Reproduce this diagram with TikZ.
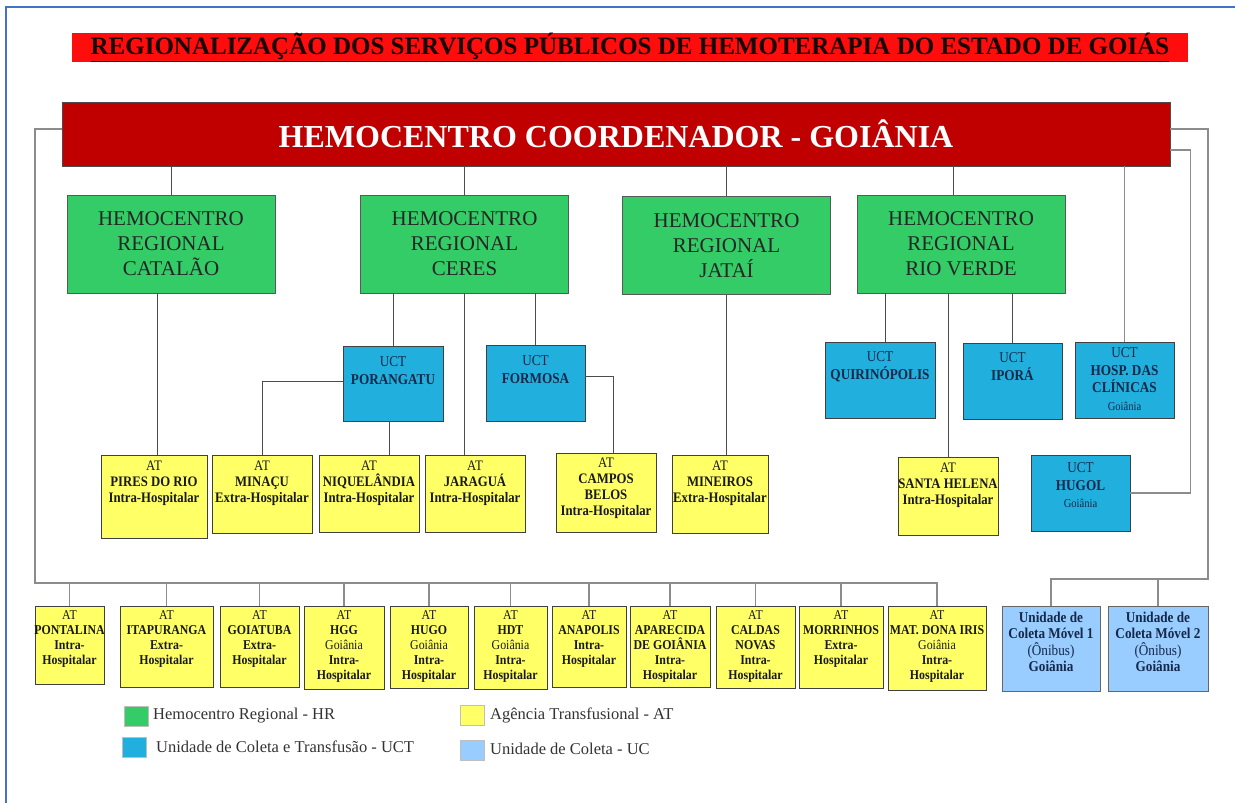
\documentclass[tikz,border=0pt]{standalone}
\usepackage{fontspec}
\setmainfont{Liberation Serif}
\newfontfamily\condfont[FakeStretch=0.88]{Liberation Serif}

\definecolor{titlered}{RGB}{255,12,12}
\definecolor{mainred}{RGB}{192,0,0}
\definecolor{hrgreen}{RGB}{51,204,102}
\definecolor{uctblue}{RGB}{33,176,221}
\definecolor{atyellow}{RGB}{255,255,102}
\definecolor{ucblue}{RGB}{153,204,255}
\definecolor{framecol}{RGB}{68,114,196}
\definecolor{uctink}{RGB}{20,40,75}

\tikzset{
  titlebar/.style={fill=titlered, inner sep=0pt, text=black!90!red, font=\bfseries\fontsize{25}{28}\selectfont},
  mainbox/.style={draw=black!70, fill=mainred, line width=0.8pt, inner sep=0pt, text=white, font=\bfseries\fontsize{32}{36}\selectfont},
  hrbox/.style={draw=black!65, fill=hrgreen, line width=0.8pt, inner sep=0pt, align=center, minimum width=208pt, minimum height=98pt, text=black!85, font=\fontsize{21}{25}\selectfont},
  uctbox/.style={draw=black!75, fill=uctblue, line width=0.8pt, minimum width=99pt, minimum height=76pt},
  atbox/.style={draw=black!75, fill=atyellow, line width=0.8pt, minimum width=100pt, minimum height=78pt},
  ucbox/.style={draw=black!60, fill=ucblue, line width=0.8pt, minimum height=85pt},
  ucttext/.style={anchor=north, align=center, inner sep=0pt, text=uctink, font=\condfont\fontsize{15}{17.5}\selectfont},
  midtext/.style={anchor=north, align=center, inner sep=0pt, text=black!90, font=\condfont\fontsize{14.5}{16}\selectfont},
  lowtext/.style={anchor=north, align=center, inner sep=0pt, text=black!90, font=\condfont\fontsize{13.5}{15}\selectfont},
  uctext/.style={anchor=north, align=center, inner sep=0pt, text=uctink, font=\condfont\fontsize{15}{16.5}\selectfont},
  link/.style={draw=black!70, line width=0.9pt},
  outerlink/.style={draw=black!45, line width=1.1pt},
  keybox/.style={draw=black!25, minimum width=24pt, minimum height=20pt},
  keytext/.style={anchor=west, inner sep=0pt, text=black!80, font=\fontsize{16.5}{18}\selectfont}
}

\begin{document}
\begin{tikzpicture}[x=1pt,y=-1pt]
\useasboundingbox (0,0) rectangle (1235,803);
\draw[framecol, line width=1.5pt] (6,812) -- (6,7) -- (1242,7);

\node[titlebar, minimum width=1116pt, minimum height=29pt] (title) at (630,47.5) {\underline{REGIONALIZAÇÃO DOS SERVIÇOS PÚBLICOS DE HEMOTERAPIA DO ESTADO DE GOIÁS}};
\node[mainbox, minimum width=1108pt, minimum height=64pt] (main) at (616,134) {HEMOCENTRO COORDENADOR - GOIÂNIA};

\node[hrbox] (catalao) at (171,244) {HEMOCENTRO\\REGIONAL\\CATALÃO};
\node[hrbox] (ceres) at (464.5,244) {HEMOCENTRO\\REGIONAL\\CERES};
\node[hrbox] (jatai) at (726.5,245.5) {HEMOCENTRO\\REGIONAL\\JATAÍ};
\node[hrbox] (rioverde) at (961,244) {HEMOCENTRO\\REGIONAL\\RIO VERDE};

\node[uctbox, minimum width=100pt, minimum height=75pt] (porangatu) at (393,383.5) {};
\node[ucttext] (porangatuT) at ([yshift=-11pt]porangatu.north) {UCT\\\textbf{PORANGATU}};
\node[uctbox] (formosa) at (535.5,383) {};
\node[ucttext] (formosaT) at ([yshift=-11pt]formosa.north) {UCT\\\textbf{FORMOSA}};
\node[uctbox, minimum width=110pt] (quirinopolis) at (880,380) {};
\node[ucttext] (quirinopolisT) at ([yshift=-10pt]quirinopolis.north) {UCT\\\textbf{QUIRINÓPOLIS}};
\node[uctbox] (ipora) at (1012.5,381) {};
\node[ucttext] (iporaT) at ([yshift=-10pt]ipora.north) {UCT\\\textbf{IPORÁ}};
\node[uctbox] (hc) at (1124.5,380) {};
\node[ucttext] (hcT) at ([yshift=-6pt]hc.north) {UCT\\\textbf{HOSP. DAS}\\\textbf{CLÍNICAS}\\{\fontsize{12}{16}\selectfont Goiânia}};
\node[uctbox] (hugol) at (1080.5,493) {};
\node[ucttext] (hugolT) at ([yshift=-8pt]hugol.north) {UCT\\\textbf{HUGOL}\\{\fontsize{12}{17}\selectfont Goiânia}};

\node[atbox, minimum width=106pt, minimum height=83pt] (pires) at (154,496.5) {};
\node[midtext] (piresT) at ([yshift=-6pt]pires.north) {AT\\\textbf{PIRES DO RIO}\\\textbf{Intra-Hospitalar}};
\node[atbox] (minacu) at (262,494) {};
\node[midtext] (minacuT) at ([yshift=-6pt]minacu.north) {AT\\\textbf{MINAÇU}\\\textbf{Extra-Hospitalar}};
\node[atbox, minimum height=77pt] (niquelandia) at (369,493.5) {};
\node[midtext] (niquelandiaT) at ([yshift=-6pt]niquelandia.north) {AT\\\textbf{NIQUELÂNDIA}\\\textbf{Intra-Hospitalar}};
\node[atbox, minimum height=77pt] (jaragua) at (475,493.5) {};
\node[midtext] (jaraguaT) at ([yshift=-6pt]jaragua.north) {AT\\\textbf{JARAGUÁ}\\\textbf{Intra-Hospitalar}};
\node[atbox, minimum height=79pt] (campos) at (606,492.5) {};
\node[midtext] (camposT) at ([yshift=-5pt]campos.north) {AT\\\textbf{CAMPOS}\\\textbf{BELOS}\\\textbf{Intra-Hospitalar}};
\node[atbox, minimum width=96pt] (mineiros) at (720,494) {};
\node[midtext] (mineirosT) at ([yshift=-6pt]mineiros.north) {AT\\\textbf{MINEIROS}\\\textbf{Extra-Hospitalar}};
\node[atbox] (santahelena) at (948,496) {};
\node[midtext] (santahelenaT) at ([yshift=-6pt]santahelena.north) {AT\\\textbf{SANTA HELENA}\\\textbf{Intra-Hospitalar}};

\node[atbox, minimum width=69pt] (pontalina) at (69.5,645) {};
\node[lowtext] (pontalinaT) at ([yshift=-5pt]pontalina.north) {AT\\\textbf{PONTALINA}\\\textbf{Intra-}\\\textbf{Hospitalar}};
\node[atbox, minimum width=93pt, minimum height=81pt] (itapuranga) at (166.5,646.5) {};
\node[lowtext] (itapurangaT) at ([yshift=-5pt]itapuranga.north) {AT\\\textbf{ITAPURANGA}\\\textbf{Extra-}\\\textbf{Hospitalar}};
\node[atbox, minimum width=79pt, minimum height=81pt] (goiatuba) at (259.5,646.5) {};
\node[lowtext] (goiatubaT) at ([yshift=-5pt]goiatuba.north) {AT\\\textbf{GOIATUBA}\\\textbf{Extra-}\\\textbf{Hospitalar}};
\node[atbox, minimum width=80pt, minimum height=83pt] (hgg) at (344,647.5) {};
\node[lowtext] (hggT) at ([yshift=-5pt]hgg.north) {AT\\\textbf{HGG}\\Goiânia\\\textbf{Intra-}\\\textbf{Hospitalar}};
\node[atbox, minimum width=78pt, minimum height=82pt] (hugo) at (429,647) {};
\node[lowtext] (hugoT) at ([yshift=-5pt]hugo.north) {AT\\\textbf{HUGO}\\Goiânia\\\textbf{Intra-}\\\textbf{Hospitalar}};
\node[atbox, minimum width=73pt, minimum height=83pt] (hdt) at (510.5,647.5) {};
\node[lowtext] (hdtT) at ([yshift=-5pt]hdt.north) {AT\\\textbf{HDT}\\Goiânia\\\textbf{Intra-}\\\textbf{Hospitalar}};
\node[atbox, minimum width=74pt, minimum height=81pt] (anapolis) at (589,646.5) {};
\node[lowtext] (anapolisT) at ([yshift=-5pt]anapolis.north) {AT\\\textbf{ANAPOLIS}\\\textbf{Intra-}\\\textbf{Hospitalar}};
\node[atbox, minimum width=80pt, minimum height=81pt] (aparecida) at (670,646.5) {};
\node[lowtext] (aparecidaT) at ([yshift=-5pt]aparecida.north) {AT\\\textbf{APARECIDA}\\\textbf{DE GOIÂNIA}\\\textbf{Intra-}\\\textbf{Hospitalar}};
\node[atbox, minimum width=79pt, minimum height=82pt] (caldas) at (755.5,647) {};
\node[lowtext] (caldasT) at ([yshift=-5pt]caldas.north) {AT\\\textbf{CALDAS}\\\textbf{NOVAS}\\\textbf{Intra-}\\\textbf{Hospitalar}};
\node[atbox, minimum width=84pt, minimum height=82pt] (morrinhos) at (841,647) {};
\node[lowtext] (morrinhosT) at ([yshift=-5pt]morrinhos.north) {AT\\\textbf{MORRINHOS}\\\textbf{Extra-}\\\textbf{Hospitalar}};
\node[atbox, minimum width=98pt, minimum height=84pt] (donairis) at (937,648) {};
\node[lowtext] (donairisT) at ([yshift=-5pt]donairis.north) {AT\\\textbf{MAT. DONA IRIS}\\Goiânia\\\textbf{Intra-}\\\textbf{Hospitalar}};
\node[ucbox, minimum width=98pt] (coleta1) at (1051,648.5) {};
\node[uctext] (coleta1T) at ([yshift=-6pt]coleta1.north) {\textbf{Unidade de}\\\textbf{Coleta Móvel 1}\\(Ônibus)\\\textbf{Goiânia}};
\node[ucbox, minimum width=100pt] (coleta2) at (1158,648.5) {};
\node[uctext] (coleta2T) at ([yshift=-6pt]coleta2.north) {\textbf{Unidade de}\\\textbf{Coleta Móvel 2}\\(Ônibus)\\\textbf{Goiânia}};

\foreach \n in {catalao,ceres,jatai}
  \draw[link] (\n.north) -- (\n.north |- main.south);
\draw[link] ([xshift=-8pt]rioverde.north) -- ([xshift=-8pt]rioverde.north |- main.south);
\draw[link] ([xshift=3pt]pires.north) -- ([xshift=3pt]pires.north |- catalao.south);
\draw[link] (porangatu.north) -- (porangatu.north |- ceres.south);
\draw[link] (ceres.south) -- (ceres.south |- jaragua.north);
\draw[link] (formosa.north) -- (formosa.north |- ceres.south);
\draw[link] ([yshift=2pt]porangatu.west) -| (minacu.north);
\draw[link] ([xshift=-4pt]porangatu.south) -- ([xshift=-4pt]porangatu.south |- niquelandia.north);
\draw[link] ([yshift=7pt]formosa.east) -| ([xshift=7pt]campos.north);
\draw[link] (jatai.south) -- (jatai.south |- mineiros.north);
\draw[link] ([xshift=5pt]quirinopolis.north) -- ([xshift=5pt]quirinopolis.north |- rioverde.south);
\draw[link] (santahelena.north) -- (santahelena.north |- rioverde.south);
\draw[link] (ipora.north) -- (ipora.north |- rioverde.south);

\coordinate (atbus) at (35,583);
\draw[outerlink] ([yshift=5pt]main.west) -| (atbus) -| (donairis.north);
\foreach \n in {pontalina,itapuranga,goiatuba,hgg,hugo,hdt,anapolis,aparecida,caldas,morrinhos}
  \draw[outerlink] (\n.north) -- (\n.north |- atbus);
\coordinate (ucbus) at (1208,579);
\draw[outerlink] ([yshift=5pt]main.east) -| (ucbus) -| (coleta1.north);
\draw[outerlink] (coleta2.north) -- (coleta2.north |- ucbus);
\draw[outerlink] ([yshift=-16pt]main.east) -- ++(20,0) |- (hugol.east);
\draw[outerlink] (hc.north) -- (hc.north |- main.south);

\node[keybox, fill=hrgreen] (keyhr) at (136,716) {};
\node[keytext] (keyhrT) at (153,716) {Hemocentro Regional - HR};
\node[keybox, fill=uctblue] (keyuct) at (134,747) {};
\node[keytext] (keyuctT) at (156,747) {Unidade de Coleta e Transfusão - UCT};
\node[keybox, fill=atyellow] (keyat) at (472,715.5) {};
\node[keytext] (keyatT) at (490,715) {Agência Transfusional - AT};
\node[keybox, fill=ucblue] (keyuc) at (472,750.5) {};
\node[keytext] (keyucT) at (490,749) {Unidade de Coleta - UC};
\end{tikzpicture}
\end{document}
